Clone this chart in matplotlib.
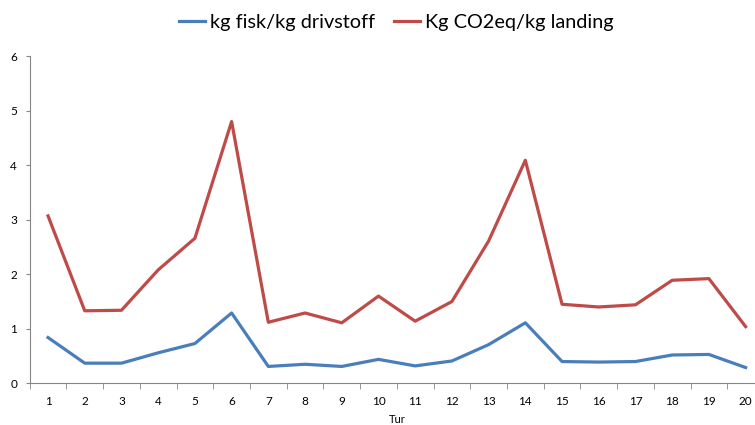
import matplotlib
matplotlib.use('Agg')
import matplotlib.pyplot as plt
import numpy as np

plt.rcParams['font.family'] = ['Lato', 'DejaVu Sans']

tur = list(range(1, 21))
fisk = [0.84, 0.37, 0.37, 0.56, 0.73, 1.29, 0.31, 0.35, 0.31, 0.44,
        0.32, 0.41, 0.71, 1.11, 0.40, 0.39, 0.40, 0.52, 0.53, 0.29]
co2 = [3.07, 1.33, 1.34, 2.08, 2.66, 4.80, 1.12, 1.29, 1.11, 1.60,
       1.14, 1.50, 2.61, 4.09, 1.45, 1.40, 1.44, 1.89, 1.92, 1.04]

fig = plt.figure(figsize=(7.55, 4.25), dpi=100)
ax = fig.add_axes([0.0393, 0.098, 0.9726, 0.77])

ax.plot(tur, fisk, color='#4a7ebb', lw=2.3, label='kg fisk/kg drivstoff')
ax.plot(tur, co2, color='#be4b48', lw=2.3, label='Kg CO2eq/kg landing')

ax.set_xlim(0.5, 20.5)
ax.set_ylim(0, 6)
ax.set_yticks(range(0, 7))
ax.set_xticks(tur)
ax.set_xticks(np.arange(0.5, 21, 1), minor=True)
ax.tick_params(axis='x', which='major', length=0, labelsize=8.5, pad=9)
ax.tick_params(axis='x', which='minor', length=4, color='#868686', direction='out')
ax.tick_params(axis='y', length=3, color='#868686', labelsize=8.5, pad=6)
for s in ['top', 'right']:
    ax.spines[s].set_visible(False)
for s in ['left', 'bottom']:
    ax.spines[s].set_color('#868686')
ax.set_xlabel('Tur', fontsize=8, labelpad=5)

fig.legend(loc='center', bbox_to_anchor=(0.525, 0.948), ncol=2, frameon=False,
           fontsize=14.3, handlelength=1.3, columnspacing=1.0, handletextpad=0.25)

fig.savefig('out.png', dpi=100)
